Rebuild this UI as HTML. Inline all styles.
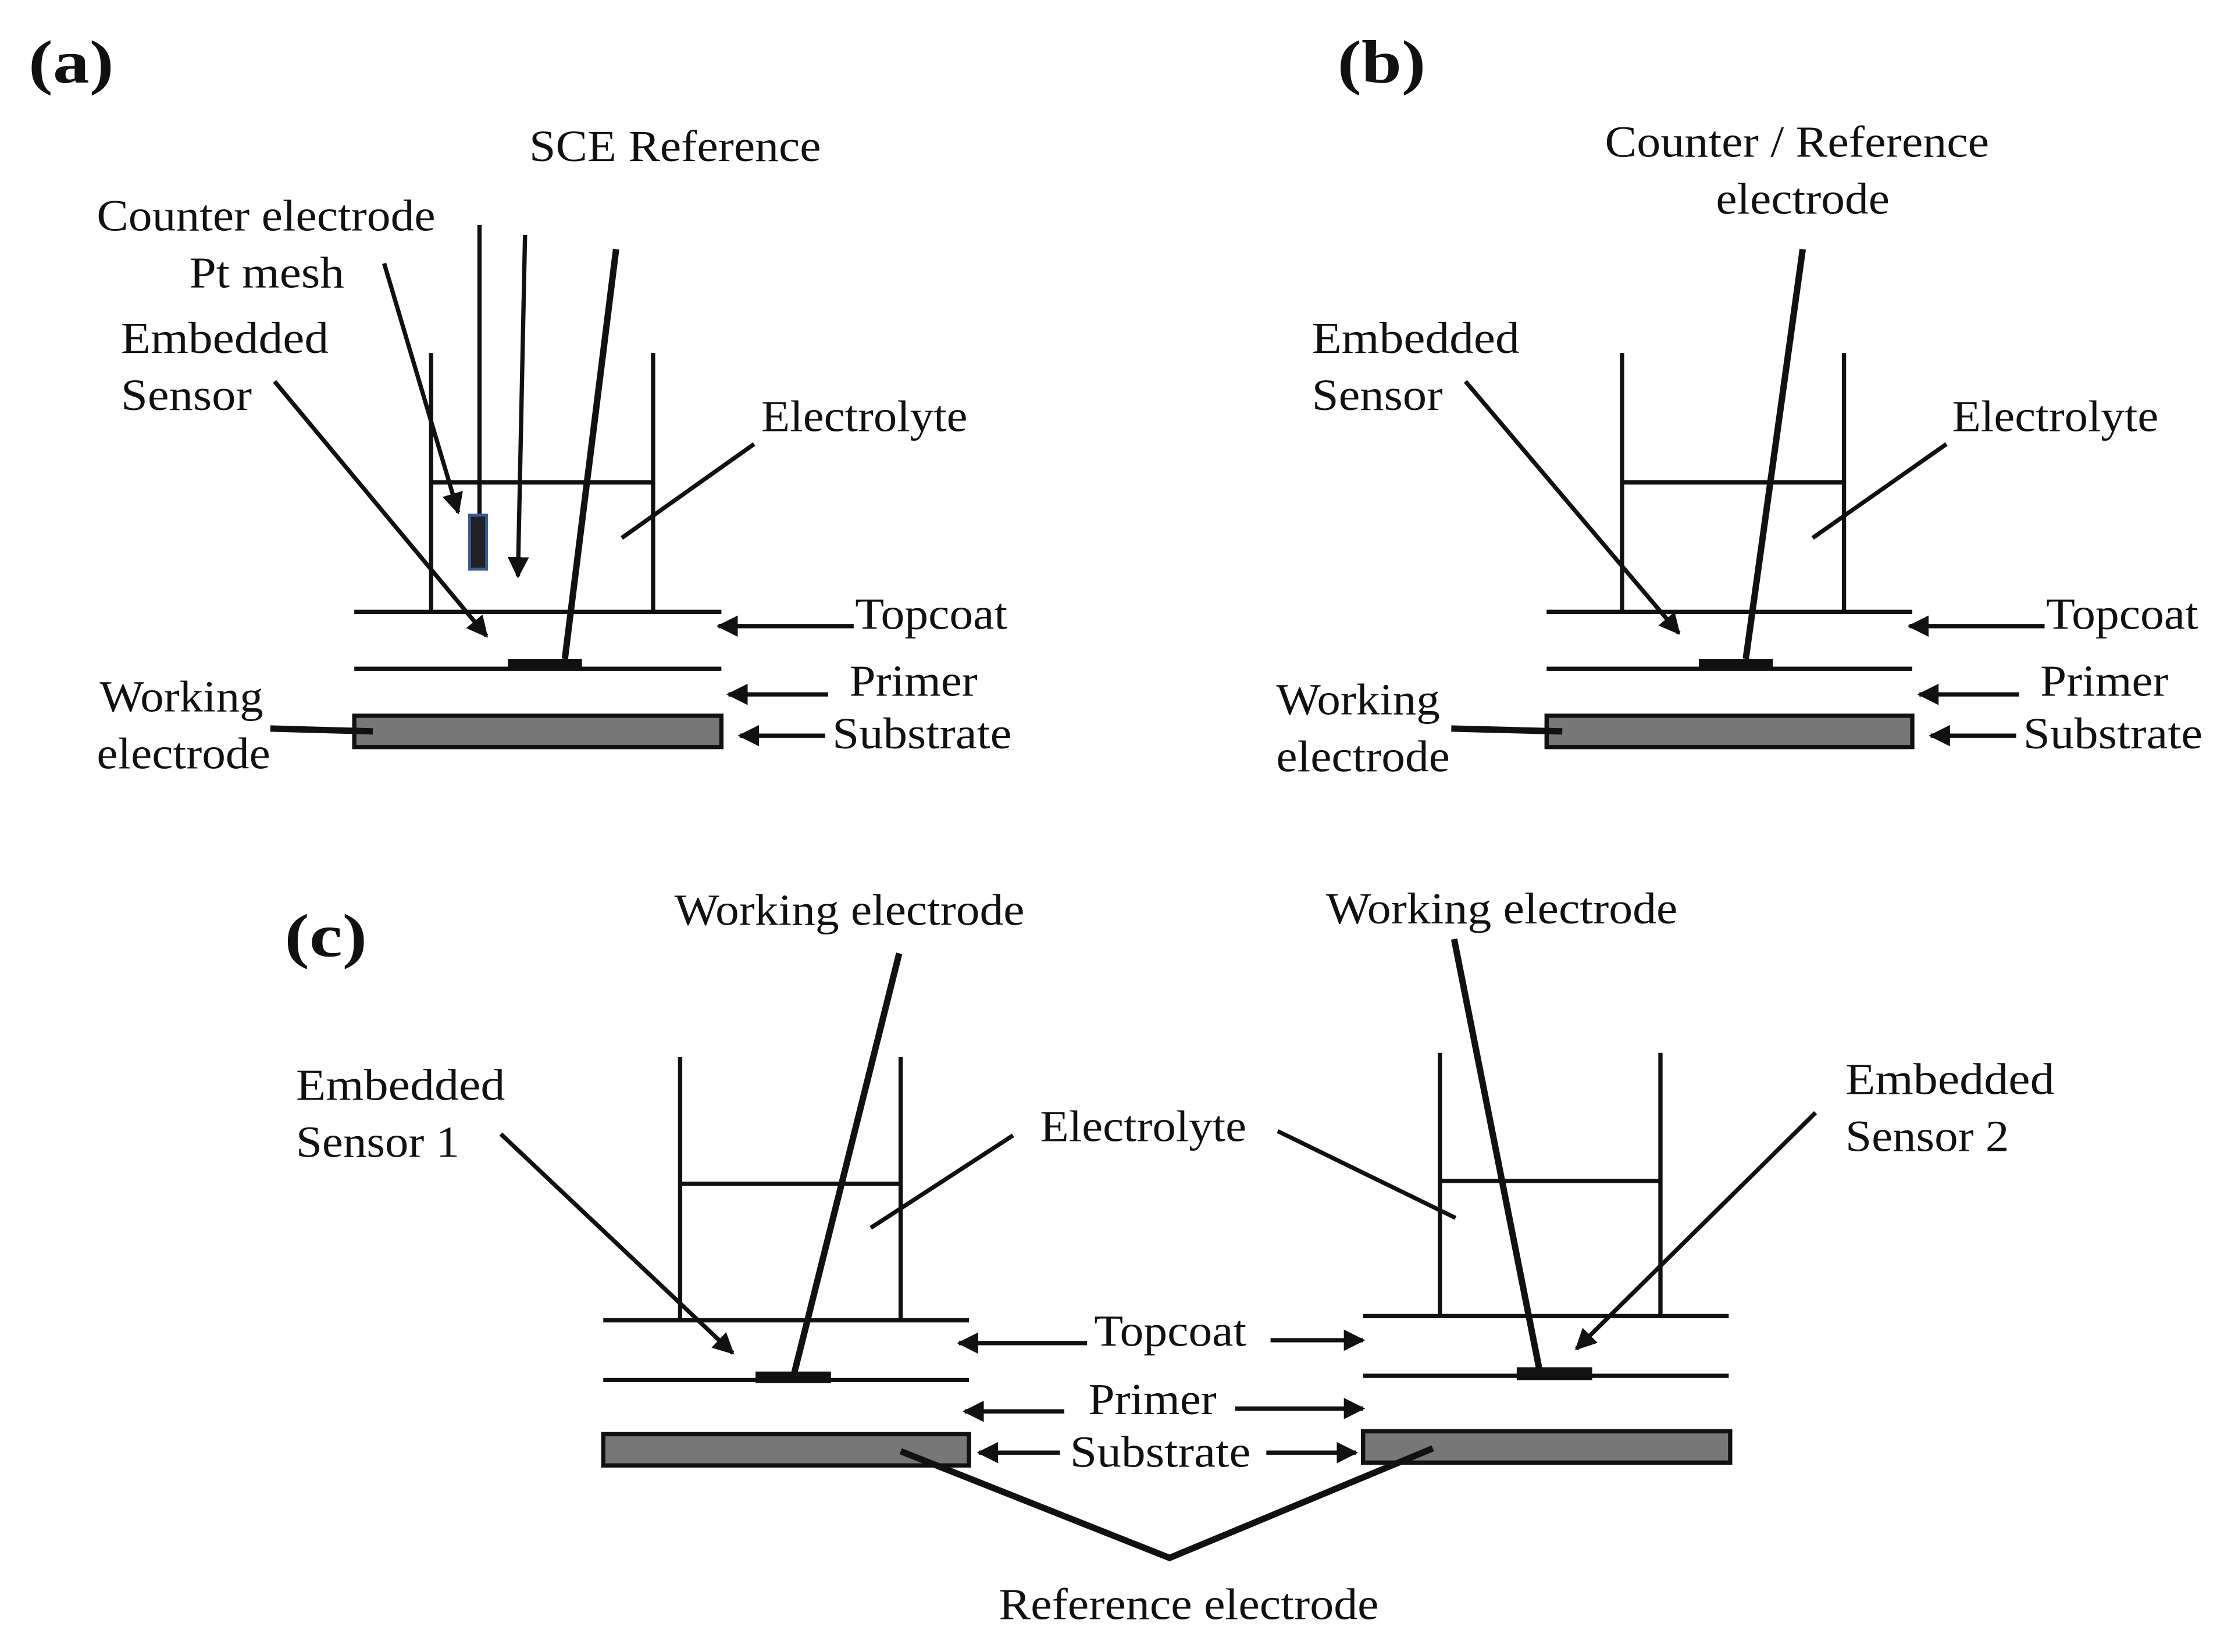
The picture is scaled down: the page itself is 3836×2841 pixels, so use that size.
<!DOCTYPE html>
<html><head><meta charset="utf-8"><style>
html,body{margin:0;padding:0;background:#fff;}
svg{display:block;}
text{font-family:"Liberation Serif",serif;font-size:31px;fill:#111;}
.b{font-weight:bold;font-size:43px;}
line,polyline{stroke:#111;stroke-width:3;fill:none;}
.t{stroke-width:4.5;}
</style></head><body>
<svg width="3836" height="2841" viewBox="0 0 1568 1161" xmlns="http://www.w3.org/2000/svg">
<defs><marker id="a" viewBox="0 0 10 10" refX="9" refY="5" markerWidth="5" markerHeight="5" orient="auto" markerUnits="strokeWidth"><path d="M0,0L10,5L0,10z" fill="#111"/></marker></defs>
<text class="b" x="20" y="58" textLength="60" lengthAdjust="spacingAndGlyphs">(a)</text>
<text class="b" x="940" y="58" textLength="62" lengthAdjust="spacingAndGlyphs">(b)</text>
<text class="b" x="200" y="672" textLength="58" lengthAdjust="spacingAndGlyphs">(c)</text>

<!-- Panel a -->
<text x="372" y="113" textLength="205" lengthAdjust="spacingAndGlyphs">SCE Reference</text>
<text x="68" y="162" textLength="238" lengthAdjust="spacingAndGlyphs">Counter electrode</text>
<text x="133" y="202" textLength="109" lengthAdjust="spacingAndGlyphs">Pt mesh</text>
<text x="85" y="248" textLength="146" lengthAdjust="spacingAndGlyphs">Embedded</text>
<text x="85" y="288" textLength="92" lengthAdjust="spacingAndGlyphs">Sensor</text>
<text x="535" y="303" textLength="145" lengthAdjust="spacingAndGlyphs">Electrolyte</text>
<text x="601" y="442" textLength="107" lengthAdjust="spacingAndGlyphs">Topcoat</text>
<text x="597" y="489" textLength="90" lengthAdjust="spacingAndGlyphs">Primer</text>
<text x="585" y="526" textLength="126" lengthAdjust="spacingAndGlyphs">Substrate</text>
<text x="70" y="500" textLength="115" lengthAdjust="spacingAndGlyphs">Working</text>
<text x="68" y="540" textLength="122" lengthAdjust="spacingAndGlyphs">electrode</text>
<line x1="303" y1="248" x2="303" y2="430"/><line x1="459" y1="248" x2="459" y2="430"/>
<line x1="303" y1="339" x2="459" y2="339"/>
<line x1="249" y1="430" x2="507" y2="430"/><line x1="249" y1="470" x2="507" y2="470"/>
<rect x="249" y="503" width="258" height="22" fill="#777" stroke="#111" stroke-width="3"/>
<rect x="357" y="463" width="52" height="8" fill="#111"/>
<line x1="337" y1="158" x2="337" y2="362"/>
<rect x="330" y="362" width="12" height="38" fill="#222" stroke="#3a5a9a" stroke-width="2"/>
<line x1="369" y1="165" x2="364" y2="405" marker-end="url(#a)"/>
<line class="t" x1="433" y1="175" x2="397" y2="463"/>
<line x1="270" y1="185" x2="322" y2="360" marker-end="url(#a)"/>
<line x1="193" y1="268" x2="342" y2="447" marker-end="url(#a)"/>
<line x1="530" y1="312" x2="437" y2="378"/>
<line x1="600" y1="440" x2="505" y2="440" marker-end="url(#a)"/>
<line x1="582" y1="488" x2="512" y2="488" marker-end="url(#a)"/>
<line x1="580" y1="517" x2="520" y2="517" marker-end="url(#a)"/>
<line class="t" x1="190" y1="512" x2="262" y2="514"/>

<!-- Panel b -->
<text x="1128" y="110" textLength="270" lengthAdjust="spacingAndGlyphs">Counter / Reference</text>
<text x="1206" y="150" textLength="122" lengthAdjust="spacingAndGlyphs">electrode</text>
<text x="922" y="248" textLength="146" lengthAdjust="spacingAndGlyphs">Embedded</text>
<text x="922" y="288" textLength="92" lengthAdjust="spacingAndGlyphs">Sensor</text>
<text x="1372" y="303" textLength="145" lengthAdjust="spacingAndGlyphs">Electrolyte</text>
<text x="1438" y="442" textLength="107" lengthAdjust="spacingAndGlyphs">Topcoat</text>
<text x="1434" y="489" textLength="90" lengthAdjust="spacingAndGlyphs">Primer</text>
<text x="1422" y="526" textLength="126" lengthAdjust="spacingAndGlyphs">Substrate</text>
<text x="897" y="502" textLength="115" lengthAdjust="spacingAndGlyphs">Working</text>
<text x="897" y="542" textLength="122" lengthAdjust="spacingAndGlyphs">electrode</text>
<line x1="1140" y1="248" x2="1140" y2="430"/><line x1="1296" y1="248" x2="1296" y2="430"/>
<line x1="1140" y1="339" x2="1296" y2="339"/>
<line x1="1087" y1="430" x2="1344" y2="430"/><line x1="1087" y1="470" x2="1344" y2="470"/>
<rect x="1087" y="503" width="257" height="22" fill="#777" stroke="#111" stroke-width="3"/>
<rect x="1194" y="463" width="52" height="8" fill="#111"/>
<line class="t" x1="1267" y1="175" x2="1227" y2="463"/>
<line x1="1030" y1="268" x2="1180" y2="445" marker-end="url(#a)"/>
<line x1="1368" y1="312" x2="1274" y2="378"/>
<line x1="1437" y1="440" x2="1342" y2="440" marker-end="url(#a)"/>
<line x1="1419" y1="488" x2="1349" y2="488" marker-end="url(#a)"/>
<line x1="1417" y1="517" x2="1357" y2="517" marker-end="url(#a)"/>
<line class="t" x1="1020" y1="512" x2="1098" y2="514"/>

<!-- Panel c -->
<text x="474" y="650" textLength="246" lengthAdjust="spacingAndGlyphs">Working electrode</text>
<text x="932" y="649" textLength="247" lengthAdjust="spacingAndGlyphs">Working electrode</text>
<text x="208" y="773" textLength="147" lengthAdjust="spacingAndGlyphs">Embedded</text>
<text x="208" y="813" textLength="115" lengthAdjust="spacingAndGlyphs">Sensor 1</text>
<text x="1297" y="769" textLength="147" lengthAdjust="spacingAndGlyphs">Embedded</text>
<text x="1297" y="809" textLength="115" lengthAdjust="spacingAndGlyphs">Sensor 2</text>
<text x="731" y="802" textLength="145" lengthAdjust="spacingAndGlyphs">Electrolyte</text>
<text x="769" y="946" textLength="107" lengthAdjust="spacingAndGlyphs">Topcoat</text>
<text x="765" y="994" textLength="90" lengthAdjust="spacingAndGlyphs">Primer</text>
<text x="752" y="1031" textLength="127" lengthAdjust="spacingAndGlyphs">Substrate</text>
<text x="702" y="1138" textLength="267" lengthAdjust="spacingAndGlyphs">Reference electrode</text>
<line x1="478" y1="743" x2="478" y2="928"/><line x1="633" y1="743" x2="633" y2="928"/>
<line x1="478" y1="832" x2="633" y2="832"/>
<line x1="424" y1="928" x2="681" y2="928"/><line x1="424" y1="970" x2="681" y2="970"/>
<rect x="424" y="1008" width="257" height="22" fill="#777" stroke="#111" stroke-width="3"/>
<rect x="531" y="964" width="53" height="8" fill="#111"/>
<line class="t" x1="632" y1="670" x2="558" y2="966"/>
<line x1="352" y1="797" x2="515" y2="951" marker-end="url(#a)"/>
<line x1="712" y1="798" x2="612" y2="863"/>
<line x1="1012" y1="740" x2="1012" y2="925"/><line x1="1167" y1="740" x2="1167" y2="925"/>
<line x1="1012" y1="830" x2="1167" y2="830"/>
<line x1="958" y1="925" x2="1215" y2="925"/><line x1="958" y1="967" x2="1215" y2="967"/>
<rect x="958" y="1006" width="258" height="22" fill="#777" stroke="#111" stroke-width="3"/>
<rect x="1066" y="961" width="53" height="9" fill="#111"/>
<line class="t" x1="1022" y1="660" x2="1082" y2="963"/>
<line x1="1276" y1="782" x2="1108" y2="948" marker-end="url(#a)"/>
<line x1="898" y1="795" x2="1023" y2="856"/>
<line x1="764" y1="944" x2="674" y2="944" marker-end="url(#a)"/>
<line x1="893" y1="942" x2="958" y2="942" marker-end="url(#a)"/>
<line x1="748" y1="992" x2="678" y2="992" marker-end="url(#a)"/>
<line x1="868" y1="990" x2="958" y2="990" marker-end="url(#a)"/>
<line x1="745" y1="1021" x2="688" y2="1021" marker-end="url(#a)"/>
<line x1="890" y1="1021" x2="953" y2="1021" marker-end="url(#a)"/>
<polyline class="t" points="633,1020 822,1095 1007,1018"/>
</svg>
</body></html>
